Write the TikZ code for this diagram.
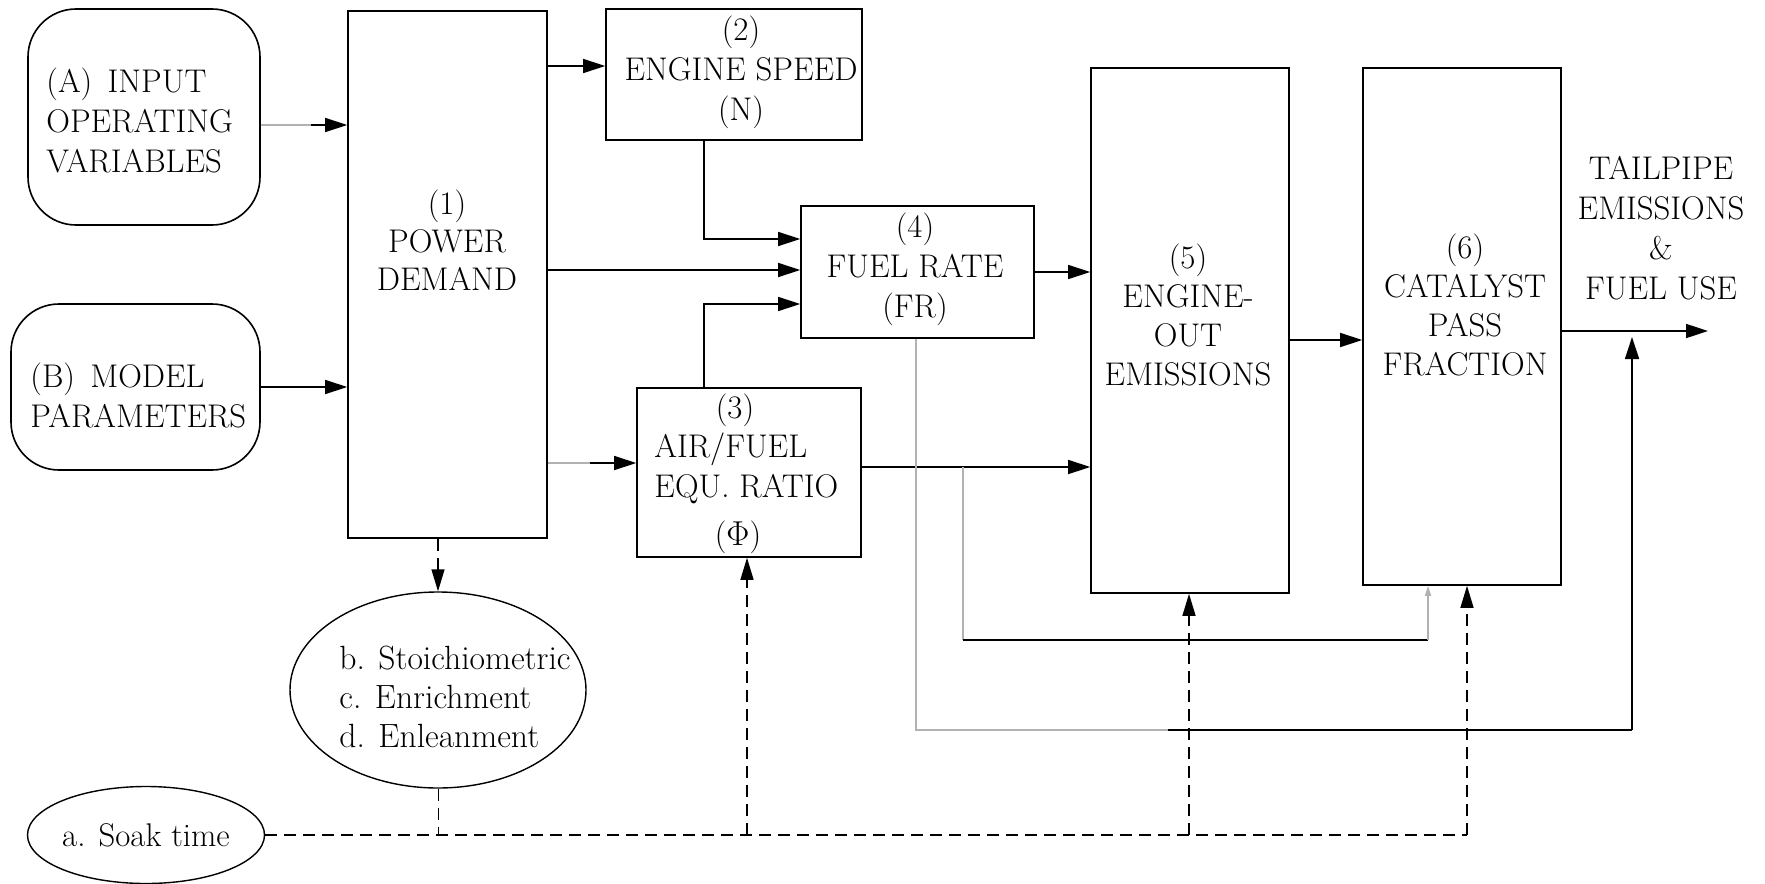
\documentclass[tikz,border=0pt]{standalone}
\usetikzlibrary{arrows.meta,shapes.geometric,calc}
\begin{document}
\begin{tikzpicture}[x=0.5pt,y=-0.5pt,
  every node/.style={font=\rmfamily\fontsize{16.4}{20}\selectfont},
  box/.style={draw, line width=0.8pt, inner sep=0pt},
  rbox/.style={box, rounded corners=24pt},
  lbl/.style={inner sep=0pt, align=center},
  arr/.style={line width=0.8pt, -{Triangle[length=11pt,width=7pt]}},
  ln/.style={line width=0.8pt},
  gln/.style={line width=0.8pt, draw=gray!60},
  dsh/.style={line width=0.7pt, dash pattern=on 6pt off 3.5pt},
  darr/.style={dsh, -{Triangle[length=11pt,width=6.5pt]}},
  oval/.style={draw, ellipse, line width=0.7pt, inner sep=0pt},
]
\useasboundingbox (0,0) rectangle (1765,883);

% ---- nodes ----
\node[rbox, minimum width=116pt, minimum height=108pt] (A) at (144,117) {};
\node[lbl, align=left, anchor=west] (tA) at (46,120) {(A)\ \,INPUT\\OPERATING\\VARIABLES};
\node[rbox, minimum width=124.5pt, minimum height=83pt] (B) at (135.5,387) {};
\node[lbl, align=left, anchor=west] (tB) at (30,395) {(B)\ \,MODEL\\PARAMETERS};

\node[box, minimum width=99.5pt, minimum height=263.5pt] (n1) at (447.5,274.5) {};
\node[lbl, font=\rmfamily\fontsize{16.4}{19}\selectfont] (t1) at (447,240) {(1)\\POWER\\DEMAND};

\node[box, minimum width=128pt, minimum height=65.5pt] (n2) at (734,74.5) {};
\node[lbl] (t2) at (741,72) {(2)\\ENGINE SPEED\\(N)};

\node[box, minimum width=112pt, minimum height=84.5pt] (n3) at (749,472.5) {};
\node[lbl] (t3a) at (735,410) {(3)};
\node[lbl, align=left, anchor=west] (t3b) at (654,468) {AIR/FUEL\\EQU. RATIO};
\node[lbl] (t3c) at (738,537) {($\Phi$)};

\node[box, minimum width=116.5pt, minimum height=66pt] (n4) at (917.5,272) {};
\node[lbl] (t4) at (915,269) {(4)\\FUEL RATE\\(FR)};

\node[box, minimum width=99pt, minimum height=262.5pt] (n5) at (1190,330.5) {};
\node[lbl, font=\rmfamily\fontsize{16.4}{19.5}\selectfont] (t5) at (1188,315) {(5)\\ENGINE-\\OUT\\EMISSIONS};

\node[box, minimum width=99pt, minimum height=258.5pt] (n6) at (1462,326.5) {};
\node[lbl, font=\rmfamily\fontsize{16.4}{19.5}\selectfont] (t6) at (1465,305) {(6)\\CATALYST\\PASS\\FRACTION};

\node[lbl] (out) at (1661,228) {TAILPIPE\\EMISSIONS\\\&\\FUEL USE};

\node[oval, minimum width=148pt, minimum height=98pt] (circ) at (438,690) {};
\node[lbl, align=left, anchor=west, font=\rmfamily\fontsize{16.8}{19.5}\selectfont] (tc) at (339,697) {b. Stoichiometric\\c. Enrichment\\d. Enleanment};

\node[oval, minimum width=115.5pt, minimum height=48.5pt] (soak) at (146,835) {a. Soak time};

% ---- helper coordinates ----
\coordinate (yAB) at (0,125);
\coordinate (y12) at (0,66);
\coordinate (y14) at (0,270);
\coordinate (x24) at (704,239);
\coordinate (x34) at (704,304);
\coordinate (y13) at (0,463);
\coordinate (y45) at (0,272);
\coordinate (y35) at (0,467);
\coordinate (y56) at (0,340);
\coordinate (outend) at (1708,331);
\coordinate (fr1) at (916,730);
\coordinate (fr2) at (1168,730);
\coordinate (fr3) at (1632,730);
\coordinate (fr4) at (1632,337);
\coordinate (ph1) at (963,467);
\coordinate (ph2) at (963,640);
\coordinate (ph3) at (1428,640);
\coordinate (s1) at (747,835);
\coordinate (s2) at (1189,835);
\coordinate (s3) at (1467,835);

% ---- connectors ----
\draw[arr] (A.east|-yAB) -- (n1.west|-yAB);
\draw[gln] (A.east|-yAB) -- ++(50,0);
\draw[arr] (B.east) -- (B.east-|n1.west);
\draw[arr] (n1.east|-y12) -- (n2.west|-y12);
\draw[arr] (n1.east|-y14) -- (n4.west|-y14);
\draw[arr] (n2.south-|x24) |- (n4.west|-x24);
\draw[arr] (n3.north-|x34) |- (n4.west|-x34);
\draw[arr] (n1.east|-y13) -- (n3.west|-y13);
\draw[gln] (n1.east|-y13) -- ++(42,0);
\draw[arr] (n4.east|-y45) -- (n5.west|-y45);
\draw[arr] (n3.east|-y35) -- (n5.west|-y35);
\draw[arr] (n5.east|-y56) -- (n6.west|-y56);
\draw[arr] (n6.east|-outend) -- (outend);

% fuel-rate feed to tailpipe
\draw[gln] (n4.south-|fr1) -- (fr1) -- (fr2);
\draw[ln] (fr2) -- (fr3);
\draw[arr] (fr3) -- (fr4);

% phi feed to catalyst
\draw[gln] (ph1) -- (ph2);
\draw[ln] (ph2) -- (ph3);
\draw[gln, -{Triangle[length=5pt,width=3pt]}] (ph3) -- (ph3|-n6.south);

% soak time dashed
\draw[dsh] (soak.east) -- (s3);
\draw[darr] (s3) -- (s3|-n6.south);
\draw[darr] (s1) -- (s1|-n3.south);
\draw[darr] (s2) -- (s2|-n5.south);
\draw[darr] (n1.south-|circ.north) -- (circ.north);
\draw[dsh, line width=0.5pt] (circ.south) -- (circ.south|-s1);
\end{tikzpicture}
\end{document}
